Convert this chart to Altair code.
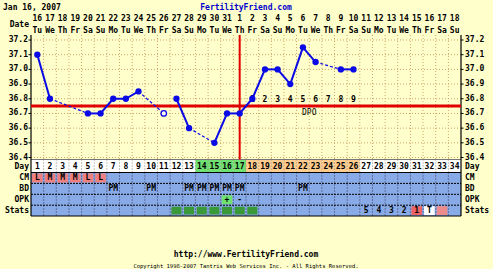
import altair as alt
import pandas as pd

# ---------------- data ----------------
DAYS = list(range(1, 35))
DATES = ["16", "17", "18", "19", "20", "21", "22", "23", "24", "25", "26", "27", "28", "29", "30", "31",
         "1", "2", "3", "4", "5", "6", "7", "8", "9", "10", "11", "12", "13", "14", "15", "16", "17", "18"]
WEEKDAYS = (["Tu", "We", "Th", "Fr", "Sa", "Su", "Mo"] * 5)[:34]
TEMPS = [37.10, 36.80, None, None, 36.70, 36.70, 36.80, 36.80, 36.85, None,
         36.70, 36.80, 36.60, None, 36.50, 36.70, 36.70, 36.80, 37.00, 37.00,
         36.90, 37.15, 37.05, None, 37.00, 37.00] + [None] * 8
DISCARDED_DAYS = [11]
TEMP_TICKS = [36.4, 36.5, 36.6, 36.7, 36.8, 36.9, 37.0, 37.1, 37.2]
COVERLINE = 36.75
OVULATION_DAY = 17
DPO_DAYS = [18, 19, 20, 21, 22, 23, 24, 25, 26]
DPO_LABELS = ["1", "2", "3", "4", "5", "6", "7", "8", "9"]
DAY_GREEN = [14, 15, 16, 17]
DAY_ORANGE = [18, 19, 20, 21, 22, 23, 24, 25, 26]
CM_DAYS = [1, 2, 3, 4, 5, 6]
CM_LABELS = ["L", "M", "M", "M", "L", "L"]
BD_DAYS = [7, 10, 13, 14, 15, 16, 17, 22]
OPK_DAYS = [16, 17]
OPK_LABELS = ["+", "-"]
STATS_GREEN_DAYS = [12, 13, 14, 15, 16, 17, 18]
STATS_TEXT_DAYS = [27, 28, 29, 30, 31, 32]
STATS_TEXT = ["5", "4", "3", "2", "1", "T"]
STATS_CELL_DAYS = [31, 32, 33]
STATS_CELL_KIND = ["red", "white", "pink"]
ROW_NAMES = ["Day", "CM", "BD", "OPK", "Stats"]

# ---------------- style / layout ----------------
FONT = "DejaVu Sans Mono"
BG = "#FFFFCC"
GRID = "#D0A46A"
BLUE_ROW = "#88AAE6"
CM_RED = "#EE8080"
DAY_GREEN_C = "#70E070"
DAY_ORANGE_C = "#FFCC8E"
STATS_GREEN_C = "#3A9A3A"
LINE_BLUE = "#0A0AE6"
RED = "#E00000"
KIND_COL = {"red": "#EE6464", "white": "#FFFFFF", "pink": "#EE8C8C"}

PAD_L, PAD_T, W, H = 31, 35, 430, 181
PXD = 146.875                     # pixels per degree
Y_TOP = 37.2 + (40 - PAD_T) / PXD
Y_BOT = Y_TOP - H / PXD


def ty(py):
    return Y_TOP - (py - PAD_T) / PXD


def tx(px):
    return 0.5 + (px - PAD_L) * 34 / W


PLOT_BOTTOM = 159.5
ROW_EDGES = [159.5, 172.5, 183.4, 194.3, 205.2, 216.0]
ROW_CENTERS = [(a + b) / 2 + 0.5 for a, b in zip(ROW_EDGES[:-1], ROW_EDGES[1:])]

XS = alt.Scale(domain=[0.5, 34.5], nice=False, zero=False)
YS = alt.Scale(domain=[Y_BOT, Y_TOP], nice=False, zero=False)


def X(f="x"):
    return alt.X(f"{f}:Q", scale=XS, axis=None)


def Y(f="y"):
    return alt.Y(f"{f}:Q", scale=YS, axis=None)


def rects(df, **kw):
    return alt.Chart(df).mark_rect(**kw).encode(
        x=X("x"), x2="x2:Q", y=Y("y"), y2="y2:Q",
        color=alt.Color("c:N", scale=None))


def rules(df, **kw):
    return alt.Chart(df).mark_rule(**kw).encode(x=X("x"), x2="x2:Q", y=Y("y"), y2="y2:Q")


def texts(df, size=8, weight="bold", color="black", **kw):
    return alt.Chart(df).mark_text(font=FONT, fontSize=size, fontWeight=weight,
                                   color=color, baseline="middle", **kw).encode(
        x=X("x"), y=Y("y"), text="t:N")


layers = []

# Day row cells
day_cells = []
for d in DAYS:
    c = DAY_GREEN_C if d in DAY_GREEN else DAY_ORANGE_C if d in DAY_ORANGE else "#FFFFFF"
    day_cells.append(dict(x=d - 0.5, x2=d + 0.5, y=ty(ROW_EDGES[0]), y2=ty(ROW_EDGES[1]), c=c))
layers.append(rects(pd.DataFrame(day_cells)))

# blue table background
layers.append(rects(pd.DataFrame([dict(x=0.5, x2=34.5, y=ty(ROW_EDGES[1]), y2=ty(ROW_EDGES[5]), c=BLUE_ROW)])))

# CM cells
cm_cells = [dict(x=d - 0.42, x2=d + 0.42, y=ty(ROW_EDGES[1] + 1), y2=ty(ROW_EDGES[2] - 1), c=CM_RED)
            for d in CM_DAYS]
layers.append(rects(pd.DataFrame(cm_cells)))

# OPK positive cell
opk_cells = [dict(x=d - 0.42, x2=d + 0.42, y=ty(ROW_EDGES[3] + 1), y2=ty(ROW_EDGES[4] - 1), c=DAY_GREEN_C)
             for d, l in zip(OPK_DAYS, OPK_LABELS) if l == "+"]
layers.append(rects(pd.DataFrame(opk_cells)))

# Stats cells
st_cells = [dict(x=d - 0.4, x2=d + 0.4, y=ty(ROW_EDGES[4] + 1.5), y2=ty(ROW_EDGES[5] - 1.5), c=STATS_GREEN_C)
            for d in STATS_GREEN_DAYS]
st_cells += [dict(x=d - 0.42, x2=d + 0.42, y=ty(ROW_EDGES[4] + 1), y2=ty(ROW_EDGES[5] - 1), c=KIND_COL[k])
             for d, k in zip(STATS_CELL_DAYS, STATS_CELL_KIND)]
layers.append(rects(pd.DataFrame(st_cells)))

# vertical grid lines
bounds = [k + 0.5 for k in range(1, 34)]
layers.append(rules(pd.DataFrame([dict(x=b, x2=b, y=ty(PAD_T), y2=ty(PLOT_BOTTOM)) for b in bounds]),
                    color=GRID, strokeDash=[1, 2], strokeWidth=1))
layers.append(rules(pd.DataFrame([dict(x=b, x2=b, y=ty(ROW_EDGES[0]), y2=ty(ROW_EDGES[1])) for b in bounds]),
                    color="#888888", strokeDash=[1, 2], strokeWidth=1))
layers.append(rules(pd.DataFrame([dict(x=b, x2=b, y=ty(ROW_EDGES[1]), y2=ty(ROW_EDGES[5])) for b in bounds]),
                    color="#333355", strokeDash=[1, 2], strokeWidth=1))

# horizontal grid lines in plot
layers.append(rules(pd.DataFrame([dict(x=0.5, x2=34.5, y=t, y2=t) for t in TEMP_TICKS]),
                    color=GRID, strokeDash=[1, 2], strokeWidth=1))

# table borders
layers.append(rules(pd.DataFrame([dict(x=0.5, x2=34.5, y=ty(ROW_EDGES[0]), y2=ty(ROW_EDGES[0]))]),
                    color="#777777", strokeWidth=1))
layers.append(rules(pd.DataFrame([dict(x=0.5, x2=34.5, y=ty(e), y2=ty(e)) for e in (ROW_EDGES[1], ROW_EDGES[5])]),
                    color="black", strokeWidth=1.2))
layers.append(rules(pd.DataFrame([dict(x=0.5, x2=34.5, y=ty(e), y2=ty(e)) for e in ROW_EDGES[2:5]]),
                    color="black", strokeDash=[2, 1], strokeWidth=1))
layers.append(rules(pd.DataFrame([dict(x=v, x2=v, y=ty(PAD_T), y2=ty(ROW_EDGES[5])) for v in (0.5, 34.5)]),
                    color="black", strokeWidth=1.2))

# axis ticks (left and right)
tick_rows = [dict(x=tx(28.5), x2=0.5, y=t, y2=t) for t in TEMP_TICKS]
tick_rows += [dict(x=34.5, x2=tx(463.5), y=t, y2=t) for t in TEMP_TICKS]
layers.append(rules(pd.DataFrame(tick_rows), color="black", strokeWidth=1))

# coverline and ovulation line
layers.append(rules(pd.DataFrame([dict(x=0.5, x2=34.5, y=COVERLINE, y2=COVERLINE)]),
                    color=RED, strokeWidth=3))
layers.append(rules(pd.DataFrame([dict(x=OVULATION_DAY, x2=OVULATION_DAY, y=ty(PAD_T), y2=ty(PLOT_BOTTOM))]),
                    color=RED, strokeWidth=2))

# DPO numbers
layers.append(texts(pd.DataFrame([dict(x=d, y=ty(99.5), t=l) for d, l in zip(DPO_DAYS, DPO_LABELS)])))
layers.append(texts(pd.DataFrame([dict(x=(DPO_DAYS[0] + DPO_DAYS[-1]) / 2 + 0.5, y=ty(113), t="DPO")]),
                    weight="normal"))

# temperature segments
valid = [(d, t) for d, t in zip(DAYS, TEMPS) if t is not None]
segs = []
for (d0, t0), (d1, t1) in zip(valid, valid[1:]):
    if d0 in DISCARDED_DAYS:
        continue
    segs.append(dict(x=d0, x2=d1, y=t0, y2=t1, dashed=(d1 - d0) > 1))
seg_df = pd.DataFrame(segs)
layers.append(rules(seg_df[~seg_df.dashed], color=LINE_BLUE, strokeWidth=2))
layers.append(rules(seg_df[seg_df.dashed], color=LINE_BLUE, strokeWidth=1.2, strokeDash=[3, 2]))

pts = pd.DataFrame([dict(x=d, y=t) for d, t in valid if d not in DISCARDED_DAYS])
hol = pd.DataFrame([dict(x=d, y=t) for d, t in valid if d in DISCARDED_DAYS])
layers.append(alt.Chart(pts).mark_circle(size=40, color=LINE_BLUE, opacity=1).encode(x=X(), y=Y()))
layers.append(alt.Chart(hol).mark_point(size=30, color=LINE_BLUE, filled=False, strokeWidth=1.3,
                                        fill="#FFFFEE", fillOpacity=1).encode(x=X(), y=Y()))

# header: dates & weekdays
layers.append(texts(pd.DataFrame([dict(x=d, y=ty(19), t=s) for d, s in zip(DAYS, DATES)])))
layers.append(texts(pd.DataFrame([dict(x=d, y=ty(31), t=s) for d, s in zip(DAYS, WEEKDAYS)])))
layers.append(texts(pd.DataFrame([dict(x=tx(29), y=ty(25), t="Date")]), align="right"))

# table texts
layers.append(texts(pd.DataFrame([dict(x=d, y=ty(ROW_CENTERS[0]), t=str(d)) for d in DAYS])))
layers.append(texts(pd.DataFrame([dict(x=d, y=ty(ROW_CENTERS[1]), t=l) for d, l in zip(CM_DAYS, CM_LABELS)])))
layers.append(texts(pd.DataFrame([dict(x=d, y=ty(ROW_CENTERS[2]), t="PM") for d in BD_DAYS])))
layers.append(texts(pd.DataFrame([dict(x=d, y=ty(ROW_CENTERS[3]), t=l) for d, l in zip(OPK_DAYS, OPK_LABELS)])))
layers.append(texts(pd.DataFrame([dict(x=d, y=ty(ROW_CENTERS[4]), t=l) for d, l in zip(STATS_TEXT_DAYS, STATS_TEXT)])))

# row labels and temperature labels, both sides
lab_l = [dict(x=tx(29), y=ty(c), t=n) for c, n in zip(ROW_CENTERS, ROW_NAMES)]
lab_l += [dict(x=tx(28), y=t, t=f"{t:.1f}") for t in TEMP_TICKS]
lab_r = [dict(x=tx(465), y=ty(c), t=n) for c, n in zip(ROW_CENTERS, ROW_NAMES)]
lab_r += [dict(x=tx(465), y=t, t=f"{t:.1f}") for t in TEMP_TICKS]
layers.append(texts(pd.DataFrame(lab_l), align="right"))
layers.append(texts(pd.DataFrame(lab_r), align="left"))

# titles and footer
layers.append(texts(pd.DataFrame([dict(x=tx(3), y=ty(8), t="Jan 16, 2007")]), align="left"))
layers.append(texts(pd.DataFrame([dict(x=tx(246), y=ty(8), t="FertilityFriend.com")]), color="#0000CC"))
layers.append(texts(pd.DataFrame([dict(x=tx(246), y=ty(255), t="http://www.FertilityFriend.com")])))
layers.append(texts(pd.DataFrame([dict(x=tx(246), y=ty(265.5),
                                       t="Copyright 1998-2007 Tantris Web Services Inc. - All Rights Reserved.")]),
                    size=5.5, weight="normal"))

chart = alt.layer(*layers).properties(
    width=W, height=H,
    padding={"left": PAD_L, "top": PAD_T, "right": 493 - PAD_L - W, "bottom": 269 - PAD_T - H},
    autosize=alt.AutoSizeParams(type="none"),
).configure(background=BG).configure_view(strokeWidth=0)

chart.save("out.html", embed_options={"renderer": "svg", "actions": False})
